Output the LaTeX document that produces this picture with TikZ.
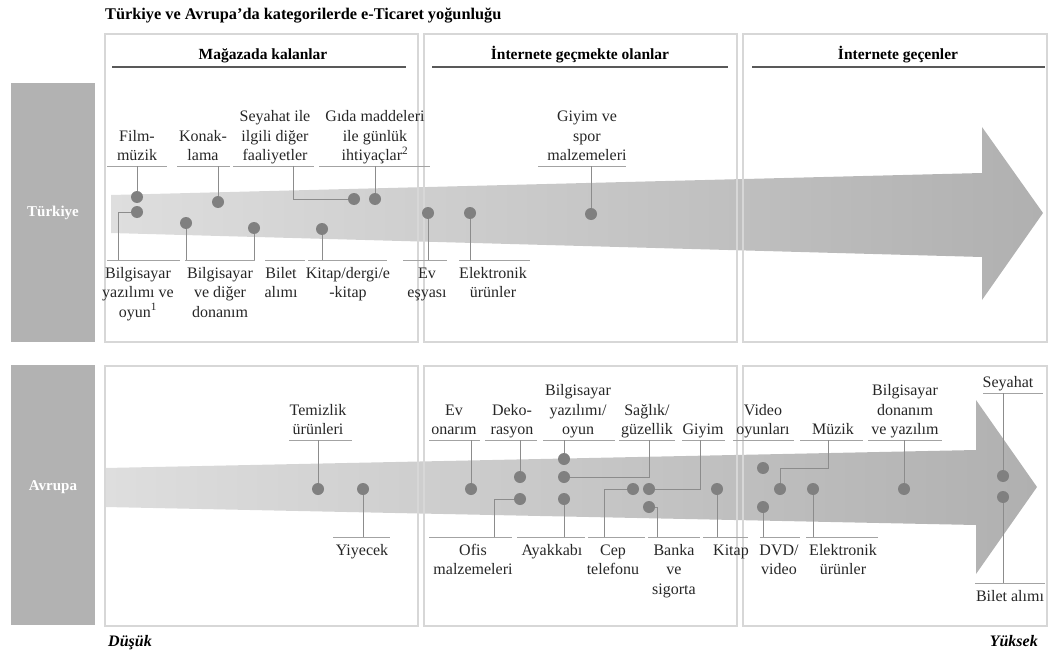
\documentclass[tikz,border=0pt]{standalone}
\usepackage{fontspec}
\setmainfont{Liberation Serif}
\usepackage{tikz}
\usetikzlibrary{calc}
\definecolor{panelline}{RGB}{215,215,215}
\definecolor{sidebox}{RGB}{178,178,178}
\definecolor{dotgray}{RGB}{128,128,128}
\definecolor{linkgray}{RGB}{140,140,140}
\definecolor{bandlight}{RGB}{222,222,222}
\definecolor{banddark}{RGB}{176,176,176}
\newcommand\lblfont{\fontsize{16}{19.5}\selectfont}
\newcommand\topstrut{\rule[-5pt]{0pt}{5pt}}
\newcommand\botstrut{\rule{0pt}{18pt}}

\begin{document}
\begin{tikzpicture}[x=1pt, y=-1pt,
  lbl/.style={font=\lblfont, align=center, inner sep=0pt, text=black!85},
  toplbl/.style={lbl, anchor=south},
  botlbl/.style={lbl, anchor=north},
  dot/.style={circle, fill=dotgray, inner sep=0pt, minimum size=12pt},
  link/.style={draw=linkgray, line width=0.9pt},
  uline/.style={draw=linkgray!80, line width=0.9pt},
  hline/.style={draw=black!65, line width=1.2pt},
  panel/.style={draw=panelline, line width=1.5pt},
  head/.style={font=\fontsize{15.5}{18}\selectfont\bfseries, anchor=base},
  sidetxt/.style={font=\fontsize{15}{18}\selectfont\bfseries, text=white}]
  \useasboundingbox (0,0) rectangle (1051,655);

  % Title
  \node[anchor=base west, inner sep=0pt, font=\fontsize{16.3}{19}\selectfont\bfseries] (title) at (105,20) {Türkiye ve Avrupa’da kategorilerde e-Ticaret yoğunluğu};

  % Side boxes
  \fill[sidebox] (11,83) rectangle (95,342);
  \node[sidetxt] (tr) at (53,213) {Türkiye};
  \fill[sidebox] (11,365) rectangle (95,625);
  \node[sidetxt] (eu) at (53,487) {Avrupa};

  % Bands
  \shade[left color=bandlight, right color=banddark] (111,195) -- (982,173) -- (982,127) -- (1043,213) -- (982,300) -- (982,257) -- (111,233) -- cycle;
  \shade[left color=bandlight, right color=banddark] (105,468) -- (976,450) -- (976,400) -- (1037,487) -- (976,574) -- (976,525) -- (105,507) -- cycle;

  % Panels
  \draw[panel] (105,34) rectangle (418,342);
  \draw[panel] (424,34) rectangle (737,342);
  \draw[panel] (743,34) rectangle (1047,342);
  \draw[panel] (105,366) rectangle (418,626);
  \draw[panel] (424,366) rectangle (737,626);
  \draw[panel] (743,366) rectangle (1047,626);

  % Headers
  \node[head] (h1) at (263,60) {Mağazada kalanlar};
  \node[head] (h2) at (580,60) {İnternete geçmekte olanlar};
  \node[head] (h3) at (898,60) {İnternete geçenler};
  \draw[hline] (112,67) -- (406,67);
  \draw[hline] (432,67) -- (728,67);
  \draw[hline] (752,67) -- (1045,67);

  % Türkiye labels
  \node[toplbl] (lFilm) at (137,166) {Film-\\müzik\topstrut};
  \node[toplbl] (lKon) at (203,166) {Konak-\\lama\topstrut};
  \node[toplbl] (lSey) at (275,166) {Seyahat ile\\ilgili diğer\\faaliyetler\topstrut};
  \node[toplbl] (lGida) at (375,166) {Gıda maddeleri\\ile günlük\\ihtiyaçlar\textsuperscript{2}\topstrut};
  \node[toplbl] (lGiyT) at (587,166) {Giyim ve\\spor\\malzemeleri\topstrut};
  \node[botlbl] (lBYO) at (138,260) {\botstrut Bilgisayar\\yazılımı ve\\oyun\textsuperscript{1}};
  \node[botlbl] (lBDD) at (220,260) {\botstrut Bilgisayar\\ve diğer\\donanım};
  \node[botlbl] (lBil) at (281,260) {\botstrut Bilet\\alımı};
  \node[botlbl] (lKitT) at (348,260) {\botstrut Kitap/dergi/e\\-kitap};
  \node[botlbl] (lEv) at (427,260) {\botstrut Ev\\eşyası};
  \node[botlbl] (lEleT) at (493,260) {\botstrut Elektronik\\ürünler};
  \draw[uline] (107,166) -- (167,166);
  \draw[uline] (177,166) -- (230,166);
  \draw[uline] (233,166) -- (314,166);
  \draw[uline] (319,166) -- (430,166);
  \draw[uline] (538,166) -- (626,166);
  \draw[uline] (107,260) -- (180,260);
  \draw[uline] (185,260) -- (255,260);
  \draw[uline] (265,260) -- (305,260);
  \draw[uline] (308,260) -- (387,260);
  \draw[uline] (403,260) -- (447,260);
  \draw[uline] (459,260) -- (530,260);

  % Türkiye dots
  \node[dot] (dFilm) at (137,197) {};
  \node[dot] (dBYO) at (137,212) {};
  \node[dot] (dBDD) at (186,223) {};
  \node[dot] (dKon) at (218,202) {};
  \node[dot] (dBil) at (254,228) {};
  \node[dot] (dKitT) at (322,229) {};
  \node[dot] (dSey) at (354,199) {};
  \node[dot] (dGida) at (375,199) {};
  \node[dot] (dEv) at (428,213) {};
  \node[dot] (dEleT) at (470,213) {};
  \node[dot] (dGiyT) at (591,214) {};
  \draw[link] (dFilm) -- (dFilm |- lFilm.south);
  \draw[link] (dBYO) -| ([xshift=-20pt]lBYO.north);
  \draw[link] (dBDD) -- (dBDD |- lBDD.north);
  \draw[link] (dKon) -- (dKon |- lKon.south);
  \draw[link] (dBil) -- (dBil |- lBil.north);
  \draw[link] (dKitT) -- (dKitT |- lKitT.north);
  \draw[link] ([xshift=18pt]lSey.south) |- (dSey);
  \draw[link] (dGida) -- (dGida |- lGida.south);
  \draw[link] (dEv) -- (dEv |- lEv.north);
  \draw[link] (dEleT) -- (dEleT |- lEleT.north);
  \draw[link] (dGiyT) -- (dGiyT |- lGiyT.south);

  % Avrupa labels
  \node[toplbl] (lTem) at (318,440) {Temizlik\\ürünleri\topstrut};
  \node[toplbl] (lEvO) at (454,440) {Ev\\onarım\topstrut};
  \node[toplbl] (lDek) at (512,440) {Deko-\\rasyon\topstrut};
  \node[toplbl] (lBY) at (578,440) {Bilgisayar\\yazılımı/\\oyun\topstrut};
  \node[toplbl] (lSag) at (647,440) {Sağlık/\\güzellik\topstrut};
  \node[toplbl] (lGiy) at (703,440) {Giyim\topstrut};
  \node[toplbl] (lVid) at (763,440) {Video\\oyunları\topstrut};
  \node[toplbl] (lMuz) at (833,440) {Müzik\topstrut};
  \node[toplbl] (lBDY) at (905,440) {Bilgisayar\\donanım\\ve yazılım\topstrut};
  \node[toplbl] (lSeyE) at (1008,393) {Seyahat\topstrut};
  \node[botlbl] (lYiy) at (362,537) {\botstrut Yiyecek};
  \node[botlbl] (lOfis) at (473,537) {\botstrut Ofis\\malzemeleri};
  \node[botlbl] (lAyak) at (552,537) {\botstrut Ayakkabı};
  \node[botlbl] (lCep) at (613,537) {\botstrut Cep\\telefonu};
  \node[botlbl] (lBan) at (674,537) {\botstrut Banka\\ve\\sigorta};
  \node[botlbl] (lKit) at (731,537) {\botstrut Kitap};
  \node[botlbl] (lDVD) at (779,537) {\botstrut DVD/\\video};
  \node[botlbl] (lEle) at (843,537) {\botstrut Elektronik\\ürünler};
  \node[botlbl] (lBilE) at (1010,583) {\botstrut Bilet alımı};
  \draw[uline] (289,440) -- (352,440);
  \draw[uline] (429,440) -- (480,440);
  \draw[uline] (485,440) -- (537,440);
  \draw[uline] (543,440) -- (615,440);
  \draw[uline] (619,440) -- (675,440);
  \draw[uline] (682,440) -- (725,440);
  \draw[uline] (733,440) -- (794,440);
  \draw[uline] (800,440) -- (863,440);
  \draw[uline] (868,440) -- (942,440);
  \draw[uline] (983,393) -- (1043,393);
  \draw[uline] (333,537) -- (390,537);
  \draw[uline] (429,537) -- (512,537);
  \draw[uline] (517,537) -- (585,537);
  \draw[uline] (588,537) -- (645,537);
  \draw[uline] (648,537) -- (700,537);
  \draw[uline] (703,537) -- (748,537);
  \draw[uline] (760,537) -- (800,537);
  \draw[uline] (806,537) -- (878,537);
  \draw[uline] (975,583) -- (1045,583);

  % Avrupa dots
  \node[dot] (dTem) at (318,489) {};
  \node[dot] (dYiy) at (363,489) {};
  \node[dot] (dEvO) at (471,489) {};
  \node[dot] (dDek) at (520,477) {};
  \node[dot] (dOfis) at (520,499) {};
  \node[dot] (dBY) at (564,459) {};
  \node[dot] (dSag) at (564,477) {};
  \node[dot] (dAyak) at (564,499) {};
  \node[dot] (dCep) at (633,489) {};
  \node[dot] (dGiy) at (649,489) {};
  \node[dot] (dBan) at (649,507) {};
  \node[dot] (dKit) at (717,489) {};
  \node[dot] (dVid) at (763,468) {};
  \node[dot] (dMuz) at (780,489) {};
  \node[dot] (dDVD) at (763,507) {};
  \node[dot] (dEle) at (813,489) {};
  \node[dot] (dBDY) at (904,489) {};
  \node[dot] (dSeyE) at (1003,476) {};
  \node[dot] (dBilE) at (1003,497) {};
  \draw[link] (dTem) -- (dTem |- lTem.south);
  \draw[link] (dYiy) -- (dYiy |- lYiy.north);
  \draw[link] (dEvO) -- (dEvO |- lEvO.south);
  \draw[link] (dDek) -- (dDek |- lDek.south);
  \draw[link] (dOfis) -| ([xshift=21pt]lOfis.north);
  \draw[link] (dBY) -- (dBY |- lBY.south);
  \draw[link] ([xshift=2pt]lSag.south) |- (dSag);
  \draw[link] (dAyak) -- (dAyak |- lAyak.north);
  \draw[link] (dCep) -| ([xshift=-9pt]lCep.north);
  \draw[link] ([xshift=-3pt]lGiy.south) |- (dGiy);
  \draw[link] (dBan) -| ([xshift=-17pt]lBan.north);
  \draw[link] (dKit) -- (dKit |- lKit.north);
  \draw[link] ([xshift=-5pt]lMuz.south) |- ([yshift=21pt]dMuz.center) -- (dMuz);
  \draw[link] (dDVD) -- (dDVD |- lDVD.north);
  \draw[link] (dEle) -- (dEle |- lEle.north);
  \draw[link] (dBDY) -- (dBDY |- lBDY.south);
  \draw[link] (dSeyE) -- (dSeyE |- lSeyE.south);
  \draw[link] (dBilE) -- (dBilE |- lBilE.north);

  % Scale ends
  \node[anchor=base west, inner sep=0pt, font=\fontsize{16}{19}\selectfont\bfseries\itshape] (low) at (108,646) {Düşük};
  \node[anchor=base east, inner sep=0pt, font=\fontsize{16}{19}\selectfont\bfseries\itshape] (high) at (1038,646) {Yüksek};
\end{tikzpicture}
\end{document}
